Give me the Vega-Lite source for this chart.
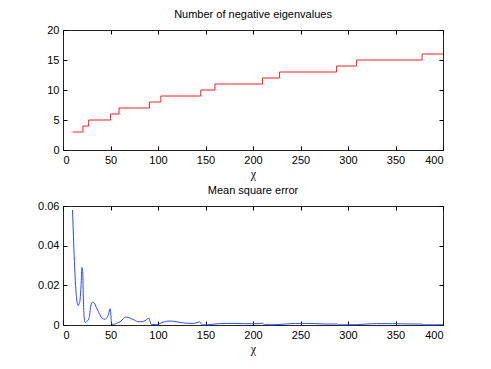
{
  "$schema": "https://vega.github.io/schema/vega-lite/v6.json",
  "background": "white",
  "padding": {"left": 37, "top": 8, "right": 5, "bottom": 5},
  "spacing": 4,
  "datasets": {
    "eig": [
      {"chi": 10, "n": 3}, {"chi": 21, "n": 4}, {"chi": 27, "n": 5}, {"chi": 50, "n": 6},
      {"chi": 59, "n": 7}, {"chi": 91, "n": 8}, {"chi": 103, "n": 9}, {"chi": 145, "n": 10},
      {"chi": 160, "n": 11}, {"chi": 210, "n": 12}, {"chi": 228, "n": 13}, {"chi": 288, "n": 14},
      {"chi": 309, "n": 15}, {"chi": 378, "n": 16}, {"chi": 400, "n": 16}
    ],
    "mse": [
      {"chi": 10, "e": 0.058}, {"chi": 11, "e": 0.045}, {"chi": 12, "e": 0.032}, {"chi": 13, "e": 0.022},
      {"chi": 14, "e": 0.015}, {"chi": 15, "e": 0.011}, {"chi": 16, "e": 0.0098}, {"chi": 17, "e": 0.0105},
      {"chi": 18, "e": 0.013}, {"chi": 19, "e": 0.02}, {"chi": 20, "e": 0.029}, {"chi": 20.7, "e": 0.027},
      {"chi": 21.5, "e": 0.012}, {"chi": 22.5, "e": 0.003}, {"chi": 23.5, "e": 0.0012}, {"chi": 25, "e": 0.0018},
      {"chi": 27, "e": 0.003}, {"chi": 28, "e": 0.005}, {"chi": 29, "e": 0.009}, {"chi": 31, "e": 0.0115},
      {"chi": 33, "e": 0.011}, {"chi": 35, "e": 0.009}, {"chi": 38, "e": 0.006}, {"chi": 41, "e": 0.0035},
      {"chi": 44, "e": 0.0029}, {"chi": 46, "e": 0.0035}, {"chi": 48, "e": 0.0055}, {"chi": 49.5, "e": 0.0082},
      {"chi": 50.3, "e": 0.006}, {"chi": 51, "e": 0.001}, {"chi": 52, "e": 0.0003}, {"chi": 55, "e": 0.0005},
      {"chi": 58, "e": 0.0012}, {"chi": 60, "e": 0.0015}, {"chi": 62, "e": 0.0025}, {"chi": 65, "e": 0.0038},
      {"chi": 67, "e": 0.004}, {"chi": 70, "e": 0.0036}, {"chi": 75, "e": 0.0025}, {"chi": 80, "e": 0.0016},
      {"chi": 85, "e": 0.0019}, {"chi": 88, "e": 0.0027}, {"chi": 90.5, "e": 0.0034}, {"chi": 91.5, "e": 0.002},
      {"chi": 93, "e": 0.0003}, {"chi": 97, "e": 0.0002}, {"chi": 100, "e": 0.0004}, {"chi": 104, "e": 0.0012},
      {"chi": 108, "e": 0.0018}, {"chi": 112, "e": 0.002}, {"chi": 116, "e": 0.0019}, {"chi": 122, "e": 0.0014},
      {"chi": 130, "e": 0.0009}, {"chi": 137, "e": 0.0008}, {"chi": 141, "e": 0.0012}, {"chi": 144, "e": 0.0017},
      {"chi": 145, "e": 0.0008}, {"chi": 147, "e": 0.0001}, {"chi": 152, "e": 0.0001}, {"chi": 158, "e": 0.0004},
      {"chi": 165, "e": 0.0007}, {"chi": 172, "e": 0.0008}, {"chi": 180, "e": 0.0008}, {"chi": 190, "e": 0.0007},
      {"chi": 200, "e": 0.0006}, {"chi": 207, "e": 0.0007}, {"chi": 210, "e": 0.0009}, {"chi": 212, "e": 0.0002},
      {"chi": 218, "e": 0.0001}, {"chi": 225, "e": 0.0002}, {"chi": 235, "e": 0.0005}, {"chi": 245, "e": 0.0008},
      {"chi": 255, "e": 0.0008}, {"chi": 265, "e": 0.0007}, {"chi": 278, "e": 0.0005}, {"chi": 286, "e": 0.0005},
      {"chi": 288, "e": 0.0006}, {"chi": 290, "e": 0.0001}, {"chi": 300, "e": 0.0001}, {"chi": 310, "e": 0.0002},
      {"chi": 320, "e": 0.0005}, {"chi": 330, "e": 0.0007}, {"chi": 340, "e": 0.0007}, {"chi": 355, "e": 0.0006},
      {"chi": 370, "e": 0.0005}, {"chi": 377, "e": 0.0005}, {"chi": 379, "e": 0.0001}, {"chi": 390, "e": 0.0001},
      {"chi": 400, "e": 0.0001}
    ]
  },
  "config": {
    "font": "Liberation Sans",
    "view": {"stroke": "#222222", "strokeWidth": 1},
    "axis": {
      "grid": false, "domain": false, "tickColor": "black", "tickSize": -4, "labelPadding": 8,
      "labelColor": "black", "labelFontSize": 11, "labelFont": "Liberation Sans",
      "titleFontSize": 12, "titleFontWeight": "normal", "titleColor": "black", "titleFont": "Liberation Serif", "titlePadding": 3
    },
    "title": {"fontSize": 11, "fontWeight": "normal", "color": "black", "offset": 4, "font": "Liberation Sans"}
  },
  "vconcat": [
    {
      "title": "Number of negative eigenvalues",
      "width": 380, "height": 120,
      "data": {"name": "eig"},
      "layer": [
        {
          "mark": {"type": "line", "interpolate": "step-after", "color": "#ff2020", "strokeWidth": 1},
          "encoding": {
            "x": {"field": "chi", "type": "quantitative", "scale": {"domain": [0, 400], "nice": false},
                  "axis": {"values": [0, 50, 100, 150, 200, 250, 300, 350, 400], "title": "χ", "orient": "bottom"}},
            "y": {"field": "n", "type": "quantitative", "scale": {"domain": [0, 20], "nice": false},
                  "axis": {"values": [0, 5, 10, 15, 20], "title": null, "orient": "left"}}
          }
        },
        {
          "mark": {"type": "line", "opacity": 0},
          "encoding": {
            "x": {"field": "chi", "type": "quantitative", "scale": {"domain": [0, 400], "nice": false},
                  "axis": {"values": [0, 50, 100, 150, 200, 250, 300, 350, 400], "title": null, "labels": false, "orient": "top"}},
            "y": {"field": "n", "type": "quantitative", "scale": {"domain": [0, 20], "nice": false},
                  "axis": {"values": [0, 5, 10, 15, 20], "title": null, "labels": false, "orient": "right"}}
          }
        }
      ],
      "resolve": {"axis": {"x": "independent", "y": "independent"}}
    },
    {
      "title": "Mean square error",
      "width": 380, "height": 119,
      "data": {"name": "mse"},
      "layer": [
        {
          "mark": {"type": "line", "interpolate": "monotone", "color": "#2a4dff", "strokeWidth": 1},
          "encoding": {
            "x": {"field": "chi", "type": "quantitative", "scale": {"domain": [0, 400], "nice": false},
                  "axis": {"values": [0, 50, 100, 150, 200, 250, 300, 350, 400], "title": "χ", "orient": "bottom"}},
            "y": {"field": "e", "type": "quantitative", "scale": {"domain": [0, 0.06], "nice": false},
                  "axis": {"values": [0, 0.02, 0.04, 0.06], "format": "~g", "title": null, "orient": "left"}}
          }
        },
        {
          "mark": {"type": "line", "opacity": 0},
          "encoding": {
            "x": {"field": "chi", "type": "quantitative", "scale": {"domain": [0, 400], "nice": false},
                  "axis": {"values": [0, 50, 100, 150, 200, 250, 300, 350, 400], "title": null, "labels": false, "orient": "top"}},
            "y": {"field": "e", "type": "quantitative", "scale": {"domain": [0, 0.06], "nice": false},
                  "axis": {"values": [0, 0.02, 0.04, 0.06], "title": null, "labels": false, "orient": "right"}}
          }
        }
      ],
      "resolve": {"axis": {"x": "independent", "y": "independent"}}
    }
  ]
}
